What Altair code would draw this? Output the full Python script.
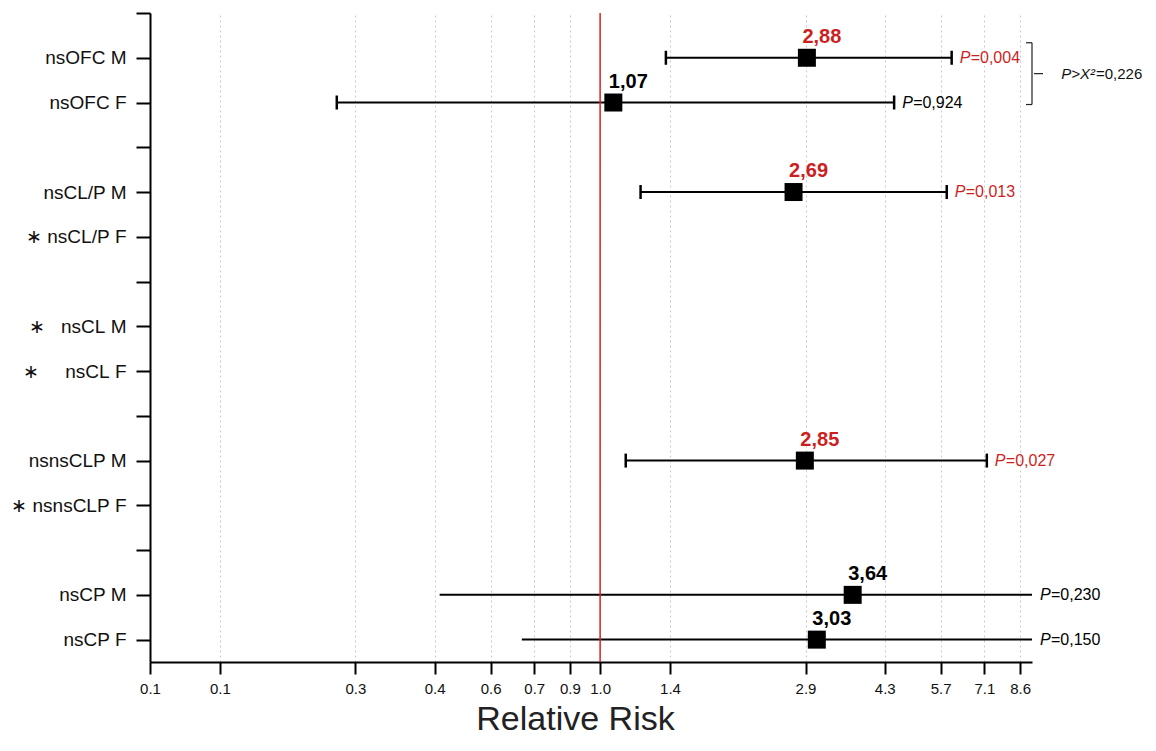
import json
import altair as alt
import pandas as pd

NB = "\u00a0"
AST = "\u2217"

# ---- data ----
ROW_LABELS = ["", "nsOFC M", "nsOFC F", "", "nsCL/P M", AST + NB + "nsCL/P" + NB + "F", "",
              AST + NB + NB + NB + "nsCL" + NB + "M", AST + NB + NB + NB + NB + NB + "nsCL" + NB + "F", "",
              "nsnsCLP M", AST + NB + "nsnsCLP" + NB + "F", "", "nsCP M", "nsCP F"]
GROUPS = ["nsOFC M", "nsOFC F", "nsCL/P M", "nsnsCLP M", "nsCP M", "nsCP F"]
ROW_INDEX = [1, 2, 4, 10, 13, 14]
RR = [2.88, 1.07, 2.69, 2.85, 3.64, 3.03]
RR_TEXT = ["2,88", "1,07", "2,69", "2,85", "3,64", "3,03"]
CI_LOW = [1.40, 0.26, 1.23, 1.14, 0.44, 0.67]
CI_HIGH = [6.04, 4.50, 5.89, 7.23, 9.11, 9.11]   # last two run past the axis end
CAPPED = [True, True, True, True, False, False]
P_TEXT = ["=0,004", "=0,924", "=0,013", "=0,027", "=0,230", "=0,150"]
SIGNIF = ["yes", "no", "yes", "yes", "no", "no"]
X_TICKS = [0.1, 0.143, 0.286, 0.429, 0.571, 0.714, 0.857, 1.0, 1.43, 2.86, 4.29, 5.71, 7.14, 8.57]
X_MIN, X_MAX = 0.1, 9.11
Y_MAX = 14.5
REF_VALUE = [1.0]
CHI_ROWS = [1, 2]
CHI_TEXT = "=0,226"

FONT = "Liberation Sans"
RED_TXT = "#cc1f1f"
RED_P = "#c0392b"

df = pd.DataFrame({
    "group": GROUPS, "row": ROW_INDEX, "rr": RR, "rr_text": RR_TEXT,
    "lo": CI_LOW, "hi": CI_HIGH, "capped": CAPPED, "p": P_TEXT, "sig": SIGNIF,
})
ref = pd.DataFrame({"v": REF_VALUE, "row": [0]})
br = pd.DataFrame({"x": [X_MAX], "y0": [CHI_ROWS[0]], "y1": [CHI_ROWS[1]],
                   "t": [CHI_TEXT]})

xscale = alt.Scale(type="log", domain=[X_MIN, X_MAX], nice=False)
yscale = alt.Scale(domain=[0, Y_MAX], reverse=True, nice=False, zero=False)
col_scale = alt.Scale(domain=["yes", "no"], range=[RED_TXT, "#000000"])
pcol_scale = alt.Scale(domain=["yes", "no"], range=[RED_P, "#000000"])

label_expr = "%s[datum.value]" % json.dumps(ROW_LABELS, ensure_ascii=False)

x_axis = alt.Axis(values=X_TICKS, format=".1f", title="Relative Risk",
                  grid=True, gridDash=[2, 3], gridColor="#c8c8c8", gridWidth=1,
                  domainColor="black", domainWidth=2, tickColor="black",
                  tickWidth=2, tickSize=12, labelFont=FONT, labelFontSize=15,
                  labelColor="#111", labelPadding=7, labelFlush=False,
                  labelOverlap=False,
                  titleFont=FONT, titleFontSize=34, titleFontWeight="normal",
                  titleColor="#222", titlePadding=6, titleX=425)
y_axis = alt.Axis(values=list(range(len(ROW_LABELS))), labelExpr=label_expr,
                  title=None, grid=False, domainColor="black", domainWidth=2,
                  tickColor="black", tickWidth=2, tickSize=14,
                  labelFont=FONT, labelFontSize=19, labelColor="#111",
                  labelPadding=10, labelOverlap=False)


def X(field):
    return alt.X(field, type="quantitative", scale=xscale, axis=x_axis)


def Y(field):
    return alt.Y(field, type="quantitative", scale=yscale, axis=y_axis)


base = alt.Chart(df)

ci = base.mark_rule(color="black", strokeWidth=2).encode(
    x=X("lo"), x2="hi:Q", y=Y("row"))

vline = alt.Chart(ref).mark_rule(color="#e02020", strokeWidth=1.5).encode(
    x=X("v"))

caps_lo = base.transform_filter("datum.capped").mark_rule(
    color="black", strokeWidth=2.5, yOffset=-7, y2Offset=7).encode(
    x=X("lo"), y=Y("row"), y2="row:Q")
caps_hi = base.transform_filter("datum.capped").mark_rule(
    color="black", strokeWidth=2.5, yOffset=-7, y2Offset=7).encode(
    x=X("hi"), y=Y("row"), y2="row:Q")

squares = base.mark_square(size=324, color="black", opacity=1).encode(
    x=X("rr"), y=Y("row"))

rr_lbl = base.mark_text(font=FONT, fontSize=20, fontWeight="bold",
                        dx=15, dy=-21, baseline="middle").encode(
    x=X("rr"), y=Y("row"), text="rr_text:N",
    color=alt.Color("sig:N", scale=col_scale, legend=None))

p_ital = base.mark_text(font=FONT, fontSize=16, fontStyle="italic",
                        align="left", baseline="middle", dx=8).encode(
    x=X("hi"), y=Y("row"), text=alt.value("P"),
    color=alt.Color("sig:N", scale=pcol_scale, legend=None))
p_val = base.mark_text(font=FONT, fontSize=16, align="left",
                       baseline="middle", dx=19).encode(
    x=X("hi"), y=Y("row"), text="p:N",
    color=alt.Color("sig:N", scale=pcol_scale, legend=None))

bbase = alt.Chart(br).transform_calculate(mid="(datum.y0 + datum.y1) / 2")
b_vert = bbase.mark_rule(color="#222", strokeWidth=1.2, yOffset=-15, y2Offset=2).encode(
    x=X("x"), y=Y("y0"), y2="y1:Q")
b_top = bbase.mark_rule(color="#222", strokeWidth=1.2, xOffset=-6, yOffset=-15).encode(
    x=X("x"), x2="x:Q", y=Y("y0"))
b_bot = bbase.mark_rule(color="#222", strokeWidth=1.2, xOffset=-6, yOffset=2).encode(
    x=X("x"), x2="x:Q", y=Y("y1"))
b_mid = bbase.mark_rule(color="#222", strokeWidth=1.2, xOffset=2, x2Offset=11,
                        yOffset=-6.5).encode(
    x=X("x"), x2="x:Q", y=Y("mid"))
chi_p = bbase.mark_text(font=FONT, fontSize=15, fontStyle="italic", align="right",
                        baseline="middle", dx=63, dy=-6.5, color="#111").encode(
    x=X("x"), y=Y("mid"), text=alt.value("P>X\u00b2"))
chi_v = bbase.mark_text(font=FONT, fontSize=15, align="left",
                        baseline="middle", dx=64, dy=-6.5, color="#111").encode(
    x=X("x"), y=Y("mid"), text="t:N")

chart = alt.layer(ci, vline, caps_lo, caps_hi, squares, rr_lbl, p_ital, p_val,
                  b_vert, b_top, b_bot, b_mid, chi_p, chi_v).properties(
    width=882, height=649,
    autosize=alt.AutoSizeParams(type="none"),
    padding={"left": 142, "top": 5, "right": 116, "bottom": 75},
).configure(background="white", view=alt.ViewConfig(stroke="transparent"))

chart.save("out.html", embed_options={"renderer": "svg", "actions": False})
